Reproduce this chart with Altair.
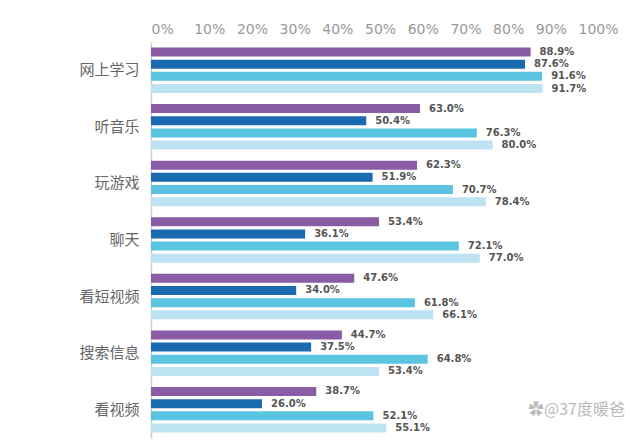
import altair as alt
import pandas as pd

categories = ["网上学习", "听音乐", "玩游戏", "聊天", "看短视频", "搜索信息", "看视频"]
series = ["系列1", "系列2", "系列3", "系列4"]
values = {
    "系列1": [88.9, 63.0, 62.3, 53.4, 47.6, 44.7, 38.7],
    "系列2": [87.6, 50.4, 51.9, 36.1, 34.0, 37.5, 26.0],
    "系列3": [91.6, 76.3, 70.7, 72.1, 61.8, 64.8, 52.1],
    "系列4": [91.7, 80.0, 78.4, 77.0, 66.1, 53.4, 55.1],
}
colors = ["#8A5CA5", "#1A6AB0", "#5BC4E0", "#BDE3F3"]

rows = []
for s in series:
    for c, v in zip(categories, values[s]):
        rows.append({"cat": c, "series": s, "value": v, "label": f"{v:.1f}%"})
df = pd.DataFrame(rows)

y = alt.Y("cat:N", sort=categories,
          scale=alt.Scale(paddingInner=0.15, paddingOuter=0.075),
          axis=alt.Axis(title=None, ticks=False, domain=True, domainColor="#CCCCCC",
                        domainWidth=1.5, labelFontSize=15, labelColor="#666666",
                        labelFont="Noto Sans CJK SC", labelFontWeight="normal", labelPadding=12))
yoff = alt.YOffset("series:N", sort=series, scale=alt.Scale(paddingInner=0.25, paddingOuter=0.1))
x = alt.X("value:Q", scale=alt.Scale(domain=[0, 100], nice=False),
          axis=alt.Axis(orient="top", title=None, values=list(range(0, 101, 10)),
                        labelExpr="datum.value + '%'", labelAlign="left", ticks=False,
                        domain=False, grid=False, labelFontSize=14, labelColor="#999999",
                        labelFont="DejaVu Sans", labelPadding=6))

base = alt.Chart(df).encode(y=y, yOffset=yoff)

bars = base.mark_bar(height=9).encode(
    x=x,
    color=alt.Color("series:N", sort=series, scale=alt.Scale(domain=series, range=colors), legend=None),
)
text = base.mark_text(align="left", baseline="middle", dx=9, fontSize=10, fontWeight="bold",
                      color="#555555", font="DejaVu Sans").encode(
    x=alt.X("value:Q", scale=alt.Scale(domain=[0, 100], nice=False)),
    text="label:N",
)
wm = alt.Chart(pd.DataFrame({"t": ["✿@37度暖爸"]})).mark_text(
    align="right", baseline="middle", fontSize=16, color="#BBBBBB", font="Noto Sans CJK SC"
).encode(text="t:N", x=alt.value(474), y=alt.value(368))

chart = alt.layer(bars, text, wm).properties(
    width=427, height=396,
    background="white",
    autosize=alt.AutoSizeParams(type="none"),
    padding={"left": 151, "top": 42, "right": 62, "bottom": 3},
).configure_view(stroke=None)

chart.save("out.html", embed_options={"renderer": "svg", "actions": False})
